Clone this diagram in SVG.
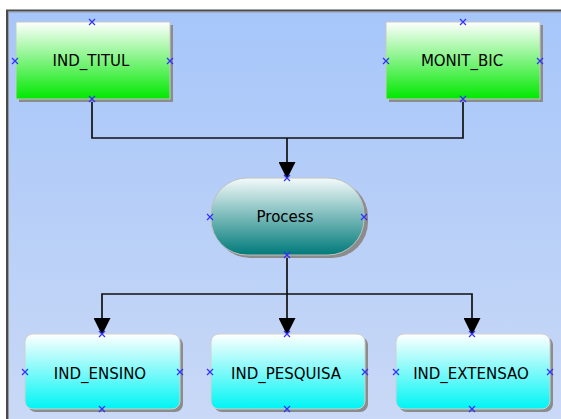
<svg xmlns="http://www.w3.org/2000/svg" width="561" height="419" viewBox="0 0 561 419">
<defs>
<linearGradient id="bg" x1="0" y1="0" x2="0" y2="1"><stop offset="0" stop-color="#a6c6fa"/><stop offset="1" stop-color="#cad9f6"/></linearGradient>
<linearGradient id="gGreen" x1="0" y1="0" x2="0" y2="1"><stop offset="0" stop-color="#ffffff"/><stop offset="1" stop-color="#00e800"/></linearGradient>
<linearGradient id="gTeal" x1="0" y1="0" x2="0" y2="1"><stop offset="0" stop-color="#f4fafa"/><stop offset="1" stop-color="#007a7a"/></linearGradient>
<linearGradient id="gCyan" x1="0" y1="0" x2="0" y2="1"><stop offset="0" stop-color="#ffffff"/><stop offset="1" stop-color="#00f4f4"/></linearGradient>
<marker id="arr" viewBox="0 0 17 17" refX="16" refY="8.5" markerWidth="17" markerHeight="17" markerUnits="userSpaceOnUse" orient="auto-start-reverse">
<path d="M0,0 L17,8.5 L0,17 Z" fill="#000"/>
</marker>
<g id="cross"><path d="M-3,-3 L3,3 M-3,3 L3,-3" stroke="#3030ff" stroke-width="1.2"/></g>
</defs>
<style>
.lbl{font-family:"DejaVu Sans",Verdana,sans-serif;font-size:15px;fill:#000;text-anchor:middle}
.shadow{fill:#8c8c8c}
.edge{stroke:#111;stroke-width:1.7;fill:none}
</style>
<rect x="0" y="0" width="561" height="419" fill="#ffffff"/>
<rect x="7" y="11" width="560" height="420" fill="url(#bg)"/>
<path d="M7,419 L7,10.5 L561,10.5" fill="none" stroke="#4a4a4a" stroke-width="2"/>
<path d="M8.5,419 L8.5,12 L561,12" fill="none" stroke="#9a9a9a" stroke-width="1"/>

<g id="connectors">
<path class="edge" d="M92,99 L92,138 L463,138 L463,99"/>
<path class="edge" d="M287,138 L287,178" marker-end="url(#arr)"/>
<path class="edge" d="M287,255 L287,294"/>
<path class="edge" d="M102,334 L102,294 L472,294 L472,334" marker-start="url(#arr)" marker-end="url(#arr)"/>
<path class="edge" d="M287,294 L287,334" marker-end="url(#arr)"/>
</g>

<g id="IND_TITUL">
<rect class="shadow" x="19" y="25" width="154" height="77"/>
<rect x="16" y="22" width="154" height="77" fill="url(#gGreen)" stroke="#c8c8c8" stroke-width="1"/>
<text class="lbl" x="91" y="66">IND_TITUL</text>
<use href="#cross" x="92" y="22"/><use href="#cross" x="15" y="61"/><use href="#cross" x="170" y="61"/><use href="#cross" x="92" y="99"/>
</g>

<g id="MONIT_BIC">
<rect class="shadow" x="389" y="25" width="154" height="77"/>
<rect x="386" y="22" width="154" height="77" fill="url(#gGreen)" stroke="#c8c8c8" stroke-width="1"/>
<text class="lbl" x="462" y="66">MONIT_BIC</text>
<use href="#cross" x="463" y="22"/><use href="#cross" x="386" y="61"/><use href="#cross" x="540" y="61"/><use href="#cross" x="463" y="99"/>
</g>

<g id="Process">
<rect class="shadow" x="214" y="181" width="154" height="77" rx="36" ry="36"/>
<rect x="211" y="178" width="153" height="77" rx="36" ry="36" fill="url(#gTeal)" stroke="#c0c0c0" stroke-width="1"/>
<text class="lbl" x="285" y="222">Process</text>
<use href="#cross" x="287" y="178"/><use href="#cross" x="210" y="217"/><use href="#cross" x="364" y="217"/><use href="#cross" x="287" y="255"/>
</g>

<g id="IND_ENSINO">
<rect class="shadow" x="28" y="337" width="155" height="75" rx="8"/>
<rect x="25" y="334" width="155" height="75" rx="8" fill="url(#gCyan)" stroke="#d0d0d0" stroke-width="1"/>
<text class="lbl" x="100" y="379">IND_ENSINO</text>
<use href="#cross" x="102" y="334"/><use href="#cross" x="25" y="372"/><use href="#cross" x="180" y="372"/><use href="#cross" x="102" y="409"/>
</g>

<g id="IND_PESQUISA">
<rect class="shadow" x="214" y="337" width="154" height="75" rx="8"/>
<rect x="211" y="334" width="154" height="75" rx="8" fill="url(#gCyan)" stroke="#d0d0d0" stroke-width="1"/>
<text class="lbl" x="286" y="379">IND_PESQUISA</text>
<use href="#cross" x="287" y="334"/><use href="#cross" x="210" y="372"/><use href="#cross" x="365" y="372"/><use href="#cross" x="287" y="409"/>
</g>

<g id="IND_EXTENSAO">
<rect class="shadow" x="399" y="337" width="154" height="75" rx="8"/>
<rect x="396" y="334" width="154" height="75" rx="8" fill="url(#gCyan)" stroke="#d0d0d0" stroke-width="1"/>
<text class="lbl" x="471" y="379">IND_EXTENSAO</text>
<use href="#cross" x="472" y="334"/><use href="#cross" x="396" y="372"/><use href="#cross" x="550" y="372"/><use href="#cross" x="472" y="409"/>
</g>
</svg>
